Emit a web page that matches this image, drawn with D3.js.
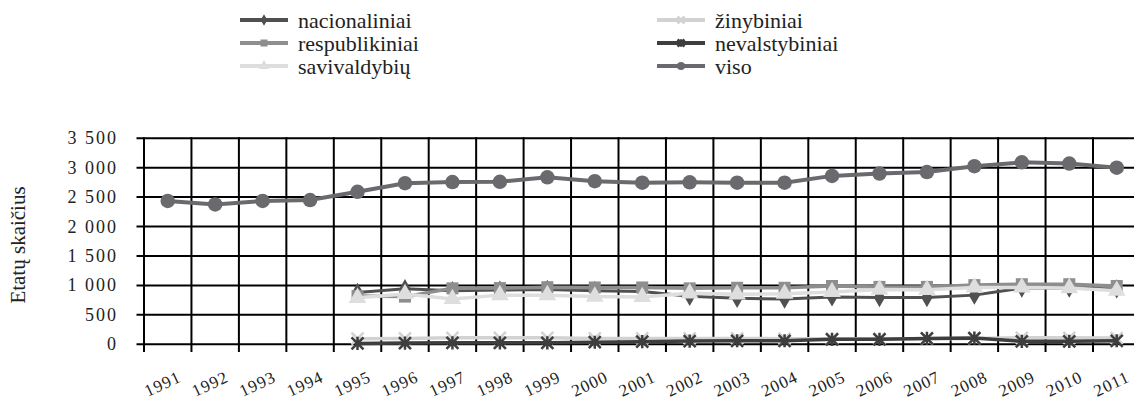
<!DOCTYPE html>
<html>
<head>
<meta charset="UTF-8">
<style>
  body { margin: 0; background: #fff; }
  text { font-family: "Liberation Serif", "Times New Roman", Tinos, "DejaVu Serif", serif; }
</style>
</head>
<body>
<svg width="1134" height="401"></svg>
<script src="https://cdnjs.cloudflare.com/ajax/libs/d3/7.8.5/d3.min.js"></script>
<script>
// data
const years = ["1991","1992","1993","1994","1995","1996","1997","1998","1999","2000",
               "2001","2002","2003","2004","2005","2006","2007","2008","2009","2010","2011"];
const lateYears = years.slice(4); // 1995 - 2011

const nacionaliniai  = [880, 945, 910, 920, 930, 910, 895, 815, 780, 770, 805, 795, 795, 835, 955, 955, 940];
const respublikiniai = [820, 810, 950, 955, 970, 965, 965, 950, 960, 960, 990, 975, 975, 1005, 1020, 1020, 990];
const savivaldybiu   = [790, 855, 770, 835, 835, 810, 805, 865, 850, 860, 890, 930, 925, 965, 965, 955, 910];
const zinybiniai     = [95, 100, 110, 110, 110, 100, 100, 100, 100, 95, 95, 95, 95, 100, 110, 110, 105];
const nevalstybiniai = [15, 20, 25, 25, 25, 35, 45, 55, 60, 60, 85, 85, 100, 105, 50, 50, 60];
const viso = [2435, 2375, 2435, 2450, 2590, 2735, 2755, 2760, 2835, 2770, 2745, 2750, 2745, 2745,
              2860, 2900, 2925, 3025, 3090, 3070, 3000];

const yTicks = [0, 500, 1000, 1500, 2000, 2500, 3000, 3500];

const series = [
  { name: "nacionaliniai",  yrs: lateYears, vals: nacionaliniai,  color: "#505050", shape: "diamond",  w: 3 },
  { name: "respublikiniai", yrs: lateYears, vals: respublikiniai, color: "#8e8e8e", shape: "square",   w: 3.5 },
  { name: "savivaldybių",   yrs: lateYears, vals: savivaldybiu,   color: "#dedede", shape: "triangle", w: 3.5 },
  { name: "žinybiniai",     yrs: lateYears, vals: zinybiniai,     color: "#d2d2d2", shape: "cross",    w: 3.5 },
  { name: "nevalstybiniai", yrs: lateYears, vals: nevalstybiniai, color: "#3e3e3e", shape: "star",     w: 3.5 },
  { name: "viso",           yrs: years,     vals: viso,           color: "#6a6a6e", shape: "circle",   w: 4 }
];

const FONT = "'Liberation Serif', 'Times New Roman', Tinos, 'DejaVu Serif', serif";

const svg = d3.select("svg");

let x = d3.scaleBand().domain(years).range([144, 144 + 21 * 47.45]).padding(0);
let y = d3.scaleLinear().domain([0, 3500]).range([344.3, 138.2]);
const cx = d => x(d) + x.bandwidth() / 2;

// grid
let grid = svg.append("g").attr("stroke", "#000").attr("stroke-width", 2);
grid.selectAll("line.h")
  .data(yTicks)
  .enter().append("line")
  .attr("x1", 136.5).attr("x2", 1134)
  .attr("y1", d => y(d)).attr("y2", d => y(d));
grid.selectAll("line.v")
  .data(years.concat(["end"]))
  .enter().append("line")
  .attr("x1", (d, i) => 144 + i * x.bandwidth())
  .attr("x2", (d, i) => 144 + i * x.bandwidth())
  .attr("y1", y(3500) - 1).attr("y2", 352);

// y tick labels
svg.append("g").selectAll("text")
  .data(yTicks)
  .enter().append("text")
  .attr("x", 118).attr("y", d => y(d))
  .attr("text-anchor", "end").attr("dominant-baseline", "central")
  .attr("font-family", FONT)
  .style("font-size", "18px").style("letter-spacing", "2px")
  .attr("fill", "#222")
  .text(d => d3.format(",")(d).replace(",", " "));

// y title
svg.append("text")
  .attr("transform", "translate(18,245) rotate(-90)")
  .attr("text-anchor", "middle").attr("dominant-baseline", "central")
  .attr("font-family", FONT)
  .style("font-size", "21px").attr("fill", "#222")
  .text("Etatų skaičius");

// x labels
svg.append("g").selectAll("text")
  .data(years)
  .enter().append("text")
  .attr("transform", d => "translate(" + (cx(d) - 5) + ",384) rotate(-25)")
  .attr("text-anchor", "middle").attr("dominant-baseline", "central")
  .attr("font-family", FONT)
  .style("font-size", "17px").style("letter-spacing", "1px")
  .attr("fill", "#222")
  .text(d => d);

function marker(sel, shape, color, s) {
  if (shape === "circle") {
    sel.append("circle").attr("r", s * 0.58).attr("fill", color);
  } else if (shape === "square") {
    sel.append("rect").attr("x", -s / 2).attr("y", -s / 2).attr("width", s).attr("height", s).attr("fill", color);
  } else if (shape === "diamond") {
    sel.append("path").attr("d", d3.symbol(d3.symbolDiamond, s * s * 0.75)).attr("fill", color);
  } else if (shape === "triangle") {
    sel.append("path").attr("d", d3.symbol(d3.symbolTriangle, s * s * 0.95)).attr("fill", color);
  } else if (shape === "cross") {
    let h = s / 2;
    sel.append("path").attr("d", "M" + -h + "," + -h + "L" + h + "," + h + "M" + -h + "," + h + "L" + h + "," + -h)
      .attr("stroke", color).attr("stroke-width", 2.5);
  } else if (shape === "star") {
    let h = s / 2;
    sel.append("path").attr("d", "M" + -h + "," + -h + "L" + h + "," + h + "M" + -h + "," + h + "L" + h + "," + -h + "M0," + -h * 1.1 + "L0," + h * 1.1)
      .attr("stroke", color).attr("stroke-width", 2.5);
  }
}

let line = d3.line().x(d => cx(d.year)).y(d => y(d.v));

series.forEach(s => {
  let pts = s.yrs.map((yr, i) => ({ year: yr, v: s.vals[i] }));
  let g = svg.append("g");
  g.append("path").datum(pts)
    .attr("d", line).attr("fill", "none")
    .attr("stroke", s.color).attr("stroke-width", s.w);
  g.selectAll("g.m").data(pts).enter().append("g")
    .attr("transform", d => "translate(" + cx(d.year) + "," + y(d.v) + ")")
    .each(function () { marker(d3.select(this), s.shape, s.color, s.shape === "circle" ? 12.5 : 12); });
});

// legend
let legendPos = [[240, 20], [240, 43], [240, 66], [657, 20], [657, 43], [657, 66]];
series.forEach((s, i) => {
  let [lx, ly] = legendPos[i];
  let g = svg.append("g").attr("transform", "translate(" + lx + "," + ly + ")");
  g.append("line").attr("x1", 0).attr("x2", 48).attr("y1", 0).attr("y2", 0)
    .attr("stroke", s.color).attr("stroke-width", 4);
  let m = g.append("g").attr("transform", "translate(24,0)");
  marker(m, s.shape, s.color, 7);
  g.append("text").attr("x", 58).attr("y", 0)
    .attr("dominant-baseline", "central")
    .attr("font-family", FONT)
    .style("font-size", "22px").attr("fill", "#222")
    .text(s.name);
});
</script>
</body>
</html>
